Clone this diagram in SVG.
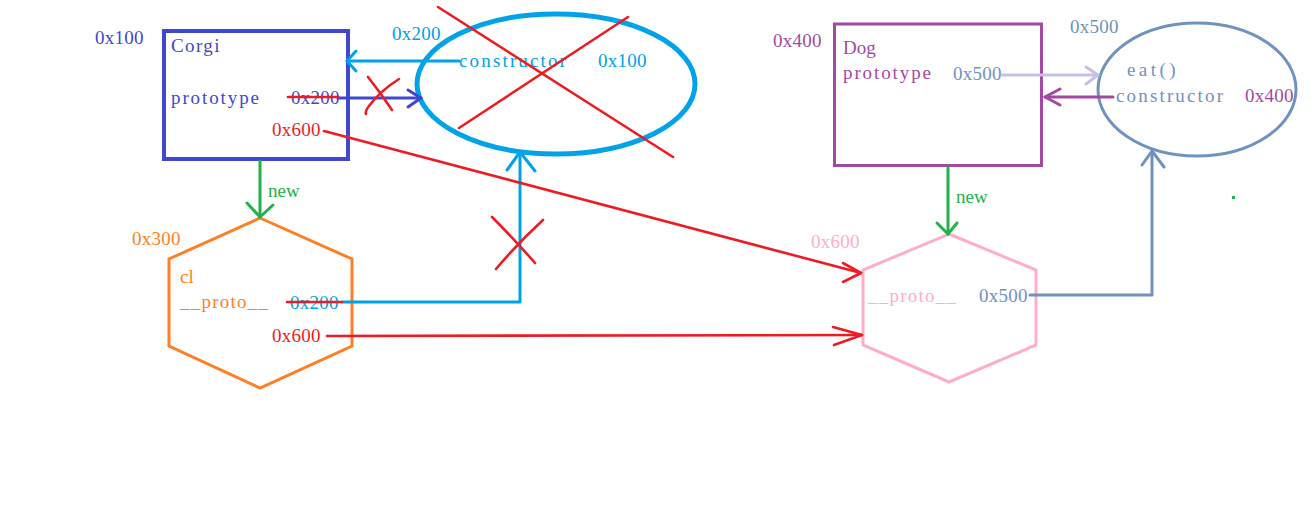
<svg xmlns="http://www.w3.org/2000/svg" width="1316" height="523" viewBox="0 0 1316 523">
  <style>
    text { font-family: "Liberation Serif", "DejaVu Serif", serif; font-size: 19px; }
    .blue { fill: #3f48cc; }
    .cyan { fill: #00a2e8; }
    .orange { fill: #ff7f27; }
    .red { fill: #ed1c24; }
    .purple { fill: #a349a4; }
    .steel { fill: #7092be; }
    .pink { fill: #ffaec9; }
    .green { fill: #22b14c; }
    .ln { fill: none; stroke-linecap: round; stroke-linejoin: round; }
    .s-red { stroke: #ed1c24; stroke-width: 2.6; }
    .s-cyan { stroke: #00a2e8; stroke-width: 3; }
    .s-blue { stroke: #3f48cc; stroke-width: 3; }
    .s-green { stroke: #22b14c; stroke-width: 3; }
    .s-lav { stroke: #c8bfe7; stroke-width: 3; }
    .s-purple { stroke: #a349a4; stroke-width: 3; }
    .s-steel { stroke: #7092be; stroke-width: 3; }
  </style>
  <rect width="1316" height="523" fill="#ffffff"/>

  <!-- Corgi constructor function -->
  <g id="corgi">
    <rect x="164" y="31" width="184" height="128" fill="none" stroke="#3f48cc" stroke-width="4"/>
    <text x="95" y="44" class="blue" textLength="48.5" lengthAdjust="spacing">0x100</text>
    <text x="171" y="52" class="blue" textLength="48.5" lengthAdjust="spacing">Corgi</text>
    <text x="171" y="104" class="blue" textLength="88" lengthAdjust="spacing">prototype</text>
    <text x="291" y="104" class="blue" textLength="48.5" lengthAdjust="spacing">0x200</text>
    <text x="272" y="136" class="red" textLength="48.5" lengthAdjust="spacing">0x600</text>
  </g>

  <!-- Corgi.prototype object (crossed out) -->
  <g id="corgi-prototype">
    <ellipse cx="556" cy="84" rx="139" ry="70" fill="none" stroke="#00a2e8" stroke-width="5"/>
    <text x="392" y="40" class="cyan" textLength="48.5" lengthAdjust="spacing">0x200</text>
    <text x="459" y="67" class="cyan" textLength="107" lengthAdjust="spacing">constructor</text>
    <text x="598" y="67" class="cyan" textLength="48.5" lengthAdjust="spacing">0x100</text>
    <line x1="438" y1="7" x2="673" y2="157" class="ln s-red"/>
    <line x1="628" y1="17" x2="459" y2="128" class="ln s-red"/>
  </g>

  <!-- instance c1 -->
  <g id="c1">
    <polygon points="260,218 352,259 352,346 260,388 169,346 169,259" fill="none" stroke="#ff7f27" stroke-width="3"/>
    <text x="132" y="245" class="orange" textLength="48.5" lengthAdjust="spacing">0x300</text>
    <text x="180" y="283" class="orange">cl</text>
    <text x="180" y="308" class="orange" textLength="88" lengthAdjust="spacing">__proto__</text>
    <text x="290" y="309" class="cyan" textLength="48.5" lengthAdjust="spacing">0x200</text>
    <text x="272" y="342" class="red" textLength="48.5" lengthAdjust="spacing">0x600</text>
  </g>

  <!-- Dog constructor function -->
  <g id="dog">
    <rect x="834.5" y="24" width="207" height="141.5" fill="none" stroke="#a349a4" stroke-width="3"/>
    <text x="773" y="47" class="purple" textLength="48.5" lengthAdjust="spacing">0x400</text>
    <text x="843" y="54" class="purple">Dog</text>
    <text x="843" y="79" class="purple" textLength="88" lengthAdjust="spacing">prototype</text>
    <text x="953" y="80" class="steel" textLength="48.5" lengthAdjust="spacing">0x500</text>
  </g>

  <!-- Dog.prototype object -->
  <g id="dog-prototype">
    <ellipse cx="1197" cy="89.5" rx="99" ry="66.5" fill="none" stroke="#7092be" stroke-width="3"/>
    <text x="1070" y="33" class="steel" textLength="48.5" lengthAdjust="spacing">0x500</text>
    <text x="1127" y="76" class="steel" textLength="48.5" lengthAdjust="spacing">eat()</text>
    <text x="1116" y="102" class="steel" textLength="107" lengthAdjust="spacing">constructor</text>
    <text x="1245" y="102" class="purple" textLength="48.5" lengthAdjust="spacing">0x400</text>
  </g>

  <!-- new Dog() instance used as Corgi.prototype -->
  <g id="dog-instance">
    <polygon points="949,234 1036,270 1036,345 949,382 863,345 863,270" fill="none" stroke="#ffaec9" stroke-width="3"/>
    <text x="811" y="248" class="pink" textLength="48.5" lengthAdjust="spacing">0x600</text>
    <text x="868" y="302" class="pink" textLength="88" lengthAdjust="spacing">__proto__</text>
    <text x="979" y="302" class="steel" textLength="48.5" lengthAdjust="spacing">0x500</text>
  </g>

  <!-- references between objects -->
  <g id="connectors">
    <!-- Corgi.prototype -> 0x200 (struck) -->
    <line x1="338" y1="98" x2="421" y2="98" class="ln s-blue"/>
    <polyline points="408,90 421,98 408,107" class="ln s-blue"/>
    <line x1="288" y1="97" x2="338" y2="97" class="ln s-red"/>
    <path d="M368,77 Q380,92 392,110 M399,79 Q380,91 369,106 Q365,111 366,114" class="ln s-red"/>

    <!-- constructor -> Corgi -->
    <line x1="459" y1="61" x2="347" y2="61" class="ln s-cyan"/>
    <polyline points="356,51 347,61 356,71" class="ln s-cyan"/>

    <!-- c1.__proto__ -> 0x200 (struck) -->
    <polyline points="342,302 520,302 520,152" class="ln s-cyan"/>
    <polyline points="507,170 520,152 535,171" class="ln s-cyan"/>
    <line x1="287" y1="302" x2="342" y2="302" class="ln s-red"/>
    <path d="M492,217 Q515,240 535,263 M543,220 Q518,243 496,269" class="ln s-red"/>

    <!-- Corgi.prototype -> 0x600 -->
    <line x1="324" y1="131" x2="861" y2="273" class="ln s-red"/>
    <polyline points="843,263 861,273 843,282" class="ln s-red"/>

    <!-- c1.__proto__ -> 0x600 -->
    <line x1="327" y1="336" x2="862" y2="335" class="ln s-red"/>
    <polyline points="833,327 862,335 834,345" class="ln s-red"/>

    <!-- new -->
    <line x1="260" y1="161" x2="260" y2="217" class="ln s-green"/>
    <polyline points="247,203 260,217 273,205" class="ln s-green"/>
    <text x="268" y="197" class="green">new</text>
    <line x1="948" y1="167" x2="948" y2="234" class="ln s-green"/>
    <polyline points="937,223 948,234 957,223" class="ln s-green"/>
    <text x="956" y="203" class="green">new</text>

    <!-- Dog.prototype -> 0x500 -->
    <line x1="1002" y1="75" x2="1098" y2="75" class="ln s-lav"/>
    <polyline points="1086,67 1098,75 1086,84" class="ln s-lav"/>

    <!-- constructor -> Dog -->
    <line x1="1113" y1="97" x2="1045" y2="97" class="ln s-purple"/>
    <polyline points="1060,89 1045,97 1060,105" class="ln s-purple"/>

    <!-- dog instance __proto__ -> 0x500 -->
    <polyline points="1030,295 1152,295 1152,151" class="ln s-steel"/>
    <polyline points="1142,165 1152,151 1164,167" class="ln s-steel"/>
  </g>

  <rect x="1232" y="196" width="3" height="3" fill="#22b14c"/>
</svg>
